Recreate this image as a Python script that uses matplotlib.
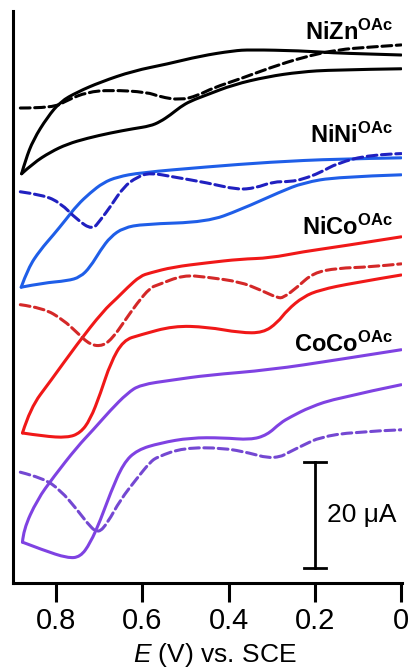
import matplotlib
matplotlib.use("Agg")
import matplotlib.pyplot as plt
from matplotlib.path import Path
from matplotlib.patches import PathPatch

plt.rcParams['font.family'] = ['Liberation Sans', 'DejaVu Sans']
plt.rcParams['mathtext.fontset'] = 'custom'
plt.rcParams['mathtext.rm'] = 'Liberation Sans'
plt.rcParams['mathtext.it'] = 'Liberation Sans:italic'
plt.rcParams['mathtext.bf'] = 'Liberation Sans:bold'

# --- data: potential (V vs SCE) and current (uA, traces stacked with offsets) ---
# CV traces are stored as two branches (return branch E=0 -> vertex, forward branch vertex -> E=0)
# NiZn
nizn_up_E = [0.0, 0.079, 0.158, 0.234, 0.350, 0.389, 0.466, 0.542, 0.621, 0.697, 0.751, 0.790,
             0.820, 0.853, 0.871, 0.880]
nizn_up_I = [99.6, 99.8, 100.0, 100.4, 100.6, 100.4, 99.4, 97.9, 96.6, 94.5, 92.6, 90.8,
             87.9, 83.6, 79.8, 77.2]
nizn_lo_E = [0.880, 0.853, 0.813, 0.774, 0.728, 0.674, 0.621, 0.582, 0.559, 0.535, 0.512, 0.489,
             0.450, 0.389, 0.311, 0.234, 0.158, 0.0]
nizn_lo_I = [77.2, 79.2, 81.3, 82.8, 83.9, 84.9, 85.7, 86.2, 87.0, 88.3, 89.8, 90.9,
             92.1, 94.0, 95.5, 96.4, 96.8, 97.0]
nizn_dpv_E = [0.883, 0.806, 0.774, 0.728, 0.674, 0.589, 0.559, 0.512, 0.473, 0.436, 0.373,
              0.304, 0.227, 0.148, 0.072, 0.0]
nizn_dpv_I = [89.6, 89.6, 91.1, 92.6, 93.0, 92.6, 91.7, 91.1, 91.9, 93.4, 95.1,
              97.2, 99.2, 100.6, 101.1, 101.5]

# NiNi
nini_up_E = [0.0, 0.148, 0.304, 0.450, 0.605, 0.658, 0.691, 0.721, 0.751, 0.778, 0.806, 0.837,
             0.865, 0.881]
nini_up_I = [80.2, 80.0, 79.4, 78.5, 77.4, 76.6, 75.5, 73.6, 71.3, 68.5, 65.7, 62.8,
             59.4, 55.8]
nini_lo_E = [0.881, 0.830, 0.774, 0.744, 0.721, 0.697, 0.674, 0.644, 0.598, 0.450, 0.373, 0.280,
             0.227, 0.148, 0.0]
nini_lo_I = [55.8, 56.6, 57.0, 57.7, 59.6, 62.8, 65.3, 67.0, 67.7, 68.1, 70.4, 73.8,
             75.5, 76.6, 77.0]
nini_dpv_E = [0.883, 0.830, 0.790, 0.751, 0.716, 0.697, 0.674, 0.644, 0.612, 0.582, 0.528,
              0.450, 0.380, 0.338, 0.297, 0.257, 0.227, 0.188, 0.148, 0.072, 0.0]
nini_dpv_I = [73.8, 73.2, 71.7, 68.5, 66.6, 68.5, 71.0, 74.7, 76.6, 77.4, 76.6,
              75.5, 74.2, 74.5, 75.7, 75.7, 76.2, 77.4, 79.2, 80.8, 81.0]

# NiCo
nico_up_E = [0.0, 0.148, 0.227, 0.304, 0.373, 0.450, 0.529, 0.582, 0.605, 0.635, 0.658, 0.691,
             0.751, 0.813, 0.860, 0.878]
nico_up_I = [65.3, 63.4, 62.5, 61.3, 61.1, 60.4, 59.6, 58.5, 57.9, 55.7, 53.8, 51.3,
             45.1, 38.1, 33.0, 28.3]
nico_lo_E = [0.878, 0.830, 0.774, 0.744, 0.721, 0.697, 0.674, 0.644, 0.605, 0.528, 0.450, 0.373,
             0.320, 0.287, 0.264, 0.227, 0.188, 0.111, 0.0]
nico_lo_I = [28.3, 27.7, 27.4, 28.3, 30.8, 35.8, 41.5, 45.8, 46.8, 48.5, 48.3, 47.2,
             47.2, 49.1, 51.5, 54.0, 55.3, 56.6, 58.1]
nico_dpv_E = [0.883, 0.830, 0.783, 0.751, 0.721, 0.691, 0.667, 0.644, 0.612, 0.582, 0.565,
              0.505, 0.450, 0.373, 0.327, 0.287, 0.273, 0.241, 0.204, 0.148, 0.072, 0.0]
nico_dpv_I = [52.5, 51.9, 49.6, 47.2, 44.9, 44.7, 46.4, 49.1, 52.8, 55.7, 56.2,
              58.1, 57.7, 56.8, 55.3, 53.8, 53.8, 55.8, 58.5, 59.4, 59.6, 60.2]

# CoCo
coco_up_E = [0.0, 0.148, 0.304, 0.450, 0.529, 0.605, 0.635, 0.674, 0.714, 0.751, 0.806, 0.844,
             0.876, 0.878]
coco_up_I = [44.0, 42.1, 40.2, 39.2, 38.3, 37.4, 35.8, 32.6, 28.9, 25.7, 20.0, 15.7,
             10.0, 7.7]
coco_lo_E = [0.878, 0.830, 0.774, 0.744, 0.721, 0.697, 0.674, 0.644, 0.612, 0.559, 0.489, 0.413,
             0.350, 0.311, 0.280, 0.257, 0.211, 0.148, 0.0]
coco_lo_I = [7.7, 6.2, 4.7, 4.9, 7.5, 11.9, 17.0, 22.6, 25.1, 26.4, 27.4, 27.4,
             27.0, 27.9, 30.2, 31.3, 33.2, 34.9, 37.4]
coco_dpv_E = [0.883, 0.830, 0.790, 0.751, 0.721, 0.702, 0.681, 0.651, 0.612, 0.582, 0.565,
              0.505, 0.413, 0.350, 0.311, 0.280, 0.264, 0.227, 0.188, 0.111, 0.0]
coco_dpv_I = [20.9, 19.8, 17.5, 13.8, 10.6, 9.4, 11.3, 15.7, 19.8, 22.8, 23.8,
              25.5, 25.5, 24.5, 23.6, 23.8, 24.5, 26.0, 27.5, 28.5, 28.9]

labels = [r'$\mathbf{NiZn^{OAc}}$', r'$\mathbf{NiNi^{OAc}}$',
          r'$\mathbf{NiCo^{OAc}}$', r'$\mathbf{CoCo^{OAc}}$']
label_I = [102.5, 83.0, 65.7, 43.6]

xticks = [0.8, 0.6, 0.4, 0.2, 0.0]
xticklabels = ['0.8', '0.6', '0.4', '0.2', '0']

scalebar_E = 0.2
scalebar_I = [2.8, 22.8]   # 20 uA


def smooth_line(ax, xs, ys, **kw):
    # draw the read points as a smooth quadratic-bezier path (passes through the end points)
    pts = list(zip(xs, ys))
    verts = [pts[0]]
    codes = [Path.MOVETO]
    n = len(pts)
    for i in range(1, n - 1):
        if i < n - 2:
            end = ((pts[i][0] + pts[i + 1][0]) / 2, (pts[i][1] + pts[i + 1][1]) / 2)
        else:
            end = pts[i + 1]
        verts += [pts[i], end]
        codes += [Path.CURVE3, Path.CURVE3]
    if n == 2:
        verts.append(pts[1])
        codes.append(Path.LINETO)
    patch = PathPatch(Path(verts, codes), facecolor='none', capstyle='round',
                      joinstyle='round', **kw)
    ax.add_patch(patch)


# --- figure ---
fig = plt.figure(figsize=(4.12, 6.7), dpi=100)
ax = fig.add_axes([13 / 412, 1 - 583 / 670, 389 / 412, 572 / 670])

lw = 2.2
dash = (0, (3.2, 1.5))
traces = [
    (nizn_up_E, nizn_up_I, nizn_lo_E, nizn_lo_I, nizn_dpv_E, nizn_dpv_I, '#000000', '#000000'),
    (nini_up_E, nini_up_I, nini_lo_E, nini_lo_I, nini_dpv_E, nini_dpv_I, '#1f5ee8', '#2020c0'),
    (nico_up_E, nico_up_I, nico_lo_E, nico_lo_I, nico_dpv_E, nico_dpv_I, '#f01818', '#d42828'),
    (coco_up_E, coco_up_I, coco_lo_E, coco_lo_I, coco_dpv_E, coco_dpv_I, '#7f42e2', '#7448d2'),
]
for upE, upI, loE, loI, dpE, dpI, c_cv, c_dp in traces:
    smooth_line(ax, upE, upI, edgecolor=c_cv, linewidth=lw)
    smooth_line(ax, loE, loI, edgecolor=c_cv, linewidth=lw)
    smooth_line(ax, dpE, dpI, edgecolor=c_dp, linewidth=lw, linestyle=dash)

# labels (right aligned near E=0)
for lab, yl in zip(labels, label_I):
    ax.text(0.019, yl, lab, fontsize=17, ha='right', va='baseline')

# scale bar
ax.plot([scalebar_E, scalebar_E], scalebar_I, color='black', lw=2.0)
for yb in scalebar_I:
    ax.plot([scalebar_E + 0.026, scalebar_E - 0.026], [yb, yb], color='black', lw=2.0)
ax.text(scalebar_E - 0.029, sum(scalebar_I) / 2, '20 \u03bcA', fontsize=19,
        ha='left', va='center')

ax.set_xlim(0.9, -0.002)
ax.set_ylim(0, 107.9)
ax.set_xticks(xticks)
ax.set_xticklabels(xticklabels, fontsize=21)
ax.set_yticks([])
ax.tick_params(axis='x', direction='out', length=14, width=2.2, pad=3.5)
for side in ['top', 'right']:
    ax.spines[side].set_visible(False)
for side in ['left', 'bottom']:
    ax.spines[side].set_linewidth(2.2)

# x label placed just under the tick labels, as in the original
fig.text(215 / 412, 1.0 / 670, r'$\it{E}$ (V) vs. SCE', fontsize=19,
         ha='center', va='bottom')

fig.savefig('out.png', dpi=100)
